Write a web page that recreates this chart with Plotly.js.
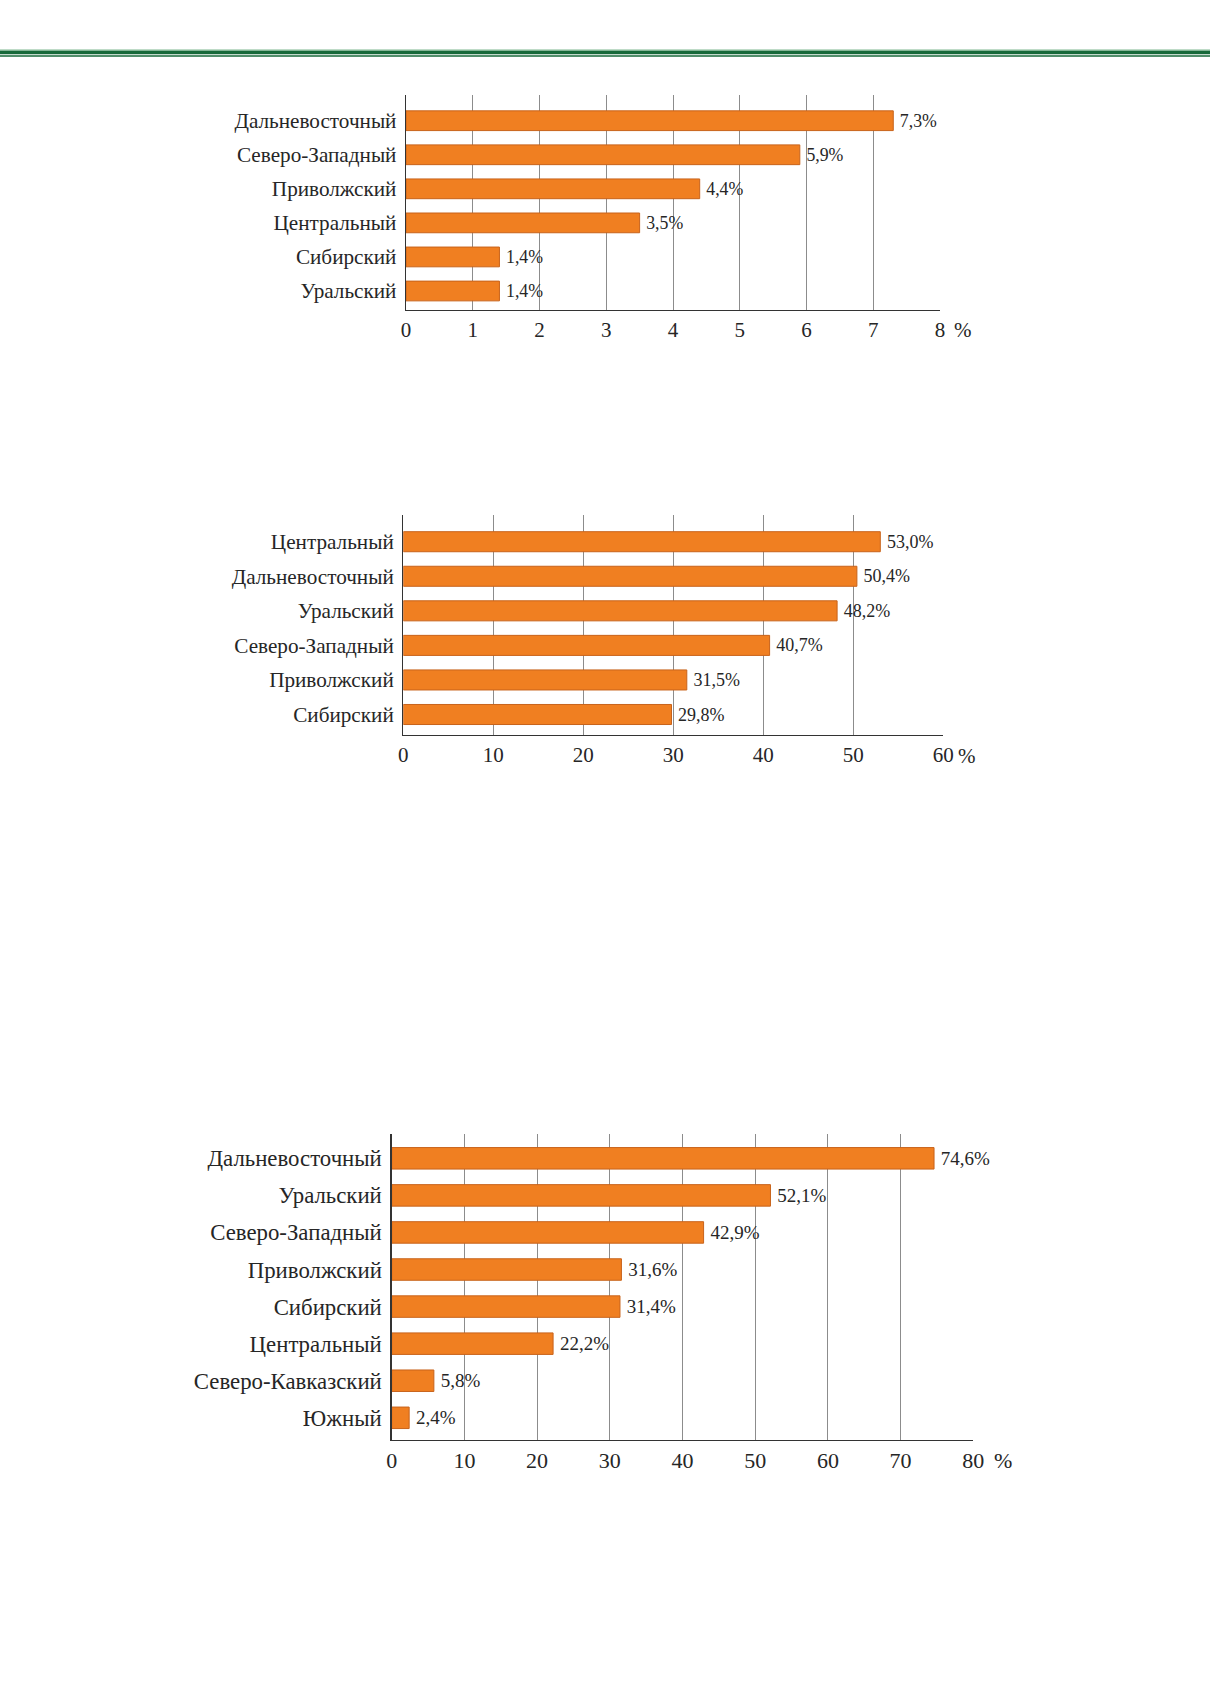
<!DOCTYPE html>
<html>
<head>
<meta charset="utf-8">
<script src="https://cdn.plot.ly/plotly-3.0.1.min.js"></script>
<style>
  html, body { margin: 0; padding: 0; background: #fff; }
  #chart { width: 1210px; height: 1681px; }
</style>
</head>
<body>
<div id="chart"></div>
<script>
// ─── data ───────────────────────────────────────────────────
var regions1 = ['Дальневосточный', 'Северо-Западный', 'Приволжский', 'Центральный', 'Сибирский', 'Уральский'];
var values1 = [7.3, 5.9, 4.4, 3.5, 1.4, 1.4];

var regions2 = ['Центральный', 'Дальневосточный', 'Уральский', 'Северо-Западный', 'Приволжский', 'Сибирский'];
var values2 = [53.0, 50.4, 48.2, 40.7, 31.5, 29.8];

var regions3 = ['Дальневосточный', 'Уральский', 'Северо-Западный', 'Приволжский', 'Сибирский', 'Центральный', 'Северо-Кавказский', 'Южный'];
var values3 = [74.6, 52.1, 42.9, 31.6, 31.4, 22.2, 5.8, 2.4];

var ticks1 = [0, 1, 2, 3, 4, 5, 6, 7, 8];
var ticks2 = [0, 10, 20, 30, 40, 50, 60];
var ticks3 = [0, 10, 20, 30, 40, 50, 60, 70, 80];

// ─── style ──────────────────────────────────────────────────
var W = 1210, H = 1681;
var SERIF = '"Liberation Serif", "Times New Roman", serif';
var TEXT = '#262626';
var ORANGE = '#F07F21';
var ORANGE_EDGE = '#C8631B';
var GREEN = '#17693A';

function px(x) { return x / W; }
function py(y) { return 1 - y / H; }
// thin space in front keeps the label a little off the bar end
function fmt(v) { return '\u2009' + v.toFixed(1).replace('.', ',') + '%'; }

function barTrace(cats, vals, axisId, textSize) {
  return {
    type: 'bar',
    orientation: 'h',
    x: vals,
    y: cats,
    xaxis: 'x' + axisId,
    yaxis: 'y' + axisId,
    marker: { color: ORANGE, line: { color: ORANGE_EDGE, width: 1 } },
    text: vals.map(fmt),
    textposition: 'outside',
    cliponaxis: false,
    textfont: { family: SERIF, size: textSize, color: TEXT },
    hoverinfo: 'skip',
  };
}

function xAxis(left, right, max, ticks, anchor, size) {
  return {
    domain: [px(left), px(right)],
    range: [0, max],
    tickvals: ticks,
    ticktext: ticks.map(String),
    showgrid: true,
    gridcolor: '#8c8c8c',
    gridwidth: 1,
    zeroline: false,
    showline: true,
    linecolor: '#333',
    linewidth: 1.3,
    ticks: '',
    tickfont: { family: SERIF, size: size, color: TEXT },
    anchor: anchor,
    fixedrange: true,
  };
}

function yAxis(top, bottom, range, anchor, size) {
  return {
    domain: [py(bottom), py(top)],
    type: 'category',
    range: range,
    showgrid: false,
    zeroline: false,
    showline: true,
    linecolor: '#333',
    linewidth: 1.3,
    ticks: '',
    ticklabelstandoff: 4,
    tickfont: { family: SERIF, size: size, color: TEXT },
    anchor: anchor,
    fixedrange: true,
  };
}

// "%" sign after the last tick, placed in page pixels
function pctLabel(xPix, yPix, size) {
  return {
    xref: 'paper', yref: 'paper',
    x: px(xPix), y: py(yPix),
    text: '%', showarrow: false,
    xanchor: 'left', yanchor: 'middle',
    font: { family: SERIF, size: size, color: TEXT },
  };
}

var traces = [
  barTrace(regions1, values1, '', 18),
  barTrace(regions2, values2, '2', 18),
  barTrace(regions3, values3, '3', 19),
];

var layout = {
  width: W,
  height: H,
  margin: { l: 0, r: 0, t: 0, b: 0 },
  paper_bgcolor: '#fff',
  plot_bgcolor: 'rgba(0,0,0,0)',
  showlegend: false,
  bargap: 0.42,
  font: { family: SERIF, color: TEXT },

  xaxis: xAxis(406, 940, 8, ticks1, 'y', 21),
  yaxis: yAxis(95, 310, [5.558, -0.755], 'x', 21.2),

  xaxis2: xAxis(403.3, 943.3, 60, ticks2, 'y2', 21),
  yaxis2: yAxis(515, 735, [5.593, -0.773], 'x2', 21.2),

  xaxis3: xAxis(391.7, 973.3, 80, ticks3, 'y3', 22),
  yaxis3: yAxis(1134, 1440, [7.599, -0.656], 'x3', 22.8),

  annotations: [
    pctLabel(952, 330, 21),
    pctLabel(956, 756, 21),
    pctLabel(992, 1460, 22),
  ],

  shapes: [
    { type: 'rect', xref: 'paper', yref: 'paper', x0: 0, x1: 1, y0: py(54.2), y1: py(50.6),
      fillcolor: GREEN, line: { width: 0 } },
    { type: 'rect', xref: 'paper', yref: 'paper', x0: 0, x1: 1, y0: py(50.6), y1: py(49.6),
      fillcolor: '#7FB890', line: { width: 0 } },
    { type: 'rect', xref: 'paper', yref: 'paper', x0: 0, x1: 1, y0: py(56.8), y1: py(55.3),
      fillcolor: GREEN, line: { width: 0 } },
  ],
};

Plotly.newPlot('chart', traces, layout, { staticPlot: true, displayModeBar: false });
</script>
</body>
</html>
